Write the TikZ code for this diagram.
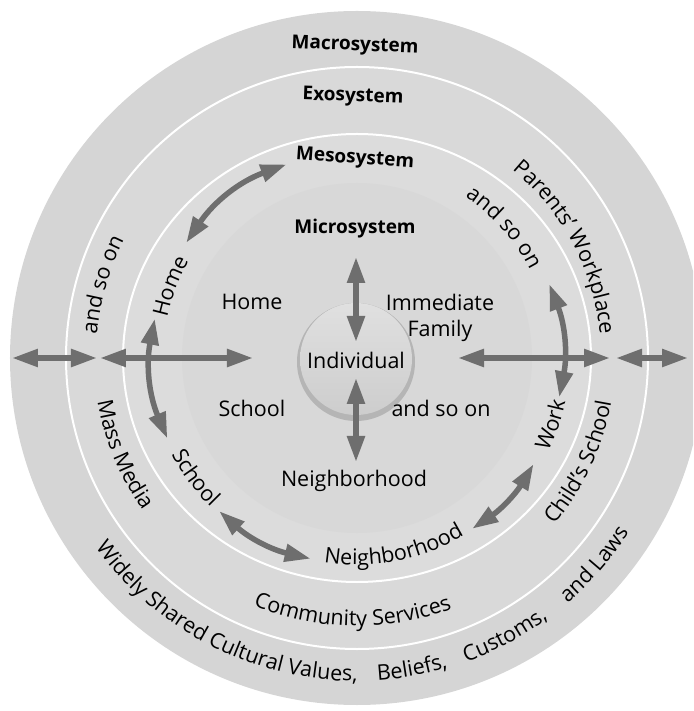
\documentclass[tikz,border=0pt]{standalone}
\usepackage{fontspec}
\setmainfont{Open Sans}
\usetikzlibrary{arrows.meta,decorations.text}

\definecolor{macrogray}{HTML}{D5D5D5}
\definecolor{exogray}{HTML}{D9D9D9}
\definecolor{mesogray}{HTML}{DCDCDC}
\definecolor{microin}{HTML}{D8D8D8}
\definecolor{microout}{HTML}{C6C6C6}
\definecolor{rimgray}{HTML}{B5B5B5}
\definecolor{facetop}{HTML}{E0E0E0}
\definecolor{facebottom}{HTML}{CDCDCD}
\definecolor{linkgray}{HTML}{6E6E6E}
\newcommand\ringfont{\fontsize{21.5}{26}\selectfont}
\pgfdeclareradialshading{microshade}{\pgfpoint{0bp}{0bp}}{color(0bp)=(microin); color(30bp)=(microin); color(50bp)=(microout)}

\tikzset{
  lbl/.style={font=\ringfont},
  systitle/.style={font=\bfseries\fontsize{19}{22}\selectfont},
  link/.style={draw=linkgray, line width=5.5pt, arrows={Triangle[length=26pt,width=17pt]-Triangle[length=26pt,width=17pt]}},
  ringtext/.style={decorate, decoration={text along path, text align=center, text={|\ringfont|#1}}}
}

\begin{document}
\begin{tikzpicture}[x=1pt, y=1pt]
\useasboundingbox (-357,-353) rectangle (336,358);
\clip (-357,-353) rectangle (336,358);

\fill[macrogray] (0,0) circle[radius=347pt];
\draw[white, line width=2pt, fill=exogray] (0,0) circle[radius=291pt];
\draw[white, line width=2pt, fill=mesogray] (0,0) ellipse[x radius=234pt, y radius=224pt];
\shade[shading=microshade] (0,0) circle[radius=175pt];
\fill[rimgray] (-1,-4) circle[radius=59pt];
\shade[top color=facetop, bottom color=facebottom] (-1,-1) circle[radius=56pt];

\node[systitle, rotate=-2] (macro) at (-2,312) {Macrosystem};
\node[systitle, rotate=-2] (exo) at (-4,261) {Exosystem};
\node[systitle, rotate=-4] (meso) at (-2,199) {Mesosystem};
\node[systitle] (micro) at (-2,129) {Microsystem};
\node[lbl] (home) at (-105,56) {Home};
\node[lbl, align=center] (family) at (83,40) {Immediate\\Family};
\node[lbl] (indiv) at (-1,-2) {Individual};
\node[lbl] (school) at (-105,-50) {School};
\node[lbl] (soon) at (84,-50) {and so on};
\node[lbl] (hood) at (-3,-123) {Neighborhood};

\coordinate (farL) at (-345,0);
\coordinate (exoL) at (-260,0);
\coordinate (mesoL) at (-257,0);
\coordinate (microL) at (-104,0);
\coordinate (microR) at (101,0);
\coordinate (mesoR) at (253,0);
\coordinate (exoR) at (259,0);
\coordinate (farR) at (331,0);
\coordinate (upT) at (-1,101);
\coordinate (upB) at (-1,16);
\coordinate (dnT) at (-1,-20);
\coordinate (dnB) at (-1,-104);
\coordinate (homeN) at (146:206pt);
\coordinate (mesoN) at (110:206pt);
\coordinate (homeS) at (169:206pt);
\coordinate (schoolN) at (203:206pt);
\coordinate (schoolS) at (228:206pt);
\coordinate (hoodW) at (257:206pt);
\coordinate (hoodE) at (304:206pt);
\coordinate (workS) at (329:206pt);
\coordinate (workN) at (-11:206pt);
\coordinate (soonS) at (21:206pt);

\draw[link] (farL) -- (exoL);
\draw[link] (mesoL) -- (microL);
\draw[link] (microR) -- (mesoR);
\draw[link] (exoR) -- (farR);
\draw[link] (upT) -- (upB);
\draw[link] (dnT) -- (dnB);
\draw[link] (homeN) to[bend left=18] (mesoN);
\draw[link] (homeS) to[bend right=17] (schoolN);
\draw[link] (schoolS) to[bend right=14.5] (hoodW);
\draw[link] (hoodE) to[bend right=12.5] (workS);
\draw[link] (soonS) to[bend left=16] (workN);

\path[ringtext=Home] (185:194pt) arc[start angle=185, end angle=133, radius=194pt];
\path[ringtext=School] (196:209pt) arc[start angle=196, end angle=237, radius=209pt];
\path[ringtext=Neighborhood] (250:207pt) arc[start angle=250, end angle=312, radius=207pt];
\path[ringtext=Work] (-36:213pt) arc[start angle=-36, end angle=-2, radius=213pt];
\path[ringtext=and so on] (72:194pt) arc[start angle=72, end angle=11, radius=194pt];

\path[ringtext=and so on] (192:261pt) arc[start angle=192, end angle=136, radius=261pt];
\path[ringtext=Mass Media] (178:263pt) arc[start angle=178, end angle=227, radius=263pt];
\path[ringtext=Community Services] (232:268pt) arc[start angle=232, end angle=306, radius=268pt];
\path[ringtext=Child's School] (-53:258pt) arc[start angle=-53, end angle=3, radius=258pt];
\path[ringtext=Parents' Workplace] (62:244pt) arc[start angle=62, end angle=-6, radius=244pt];

\path[ringtext={Widely Shared Cultural Values,}] (198:323pt) arc[start angle=198, end angle=288, radius=323pt];
\path[ringtext={Beliefs,}] (259:323pt) arc[start angle=259, end angle=301, radius=323pt];
\path[ringtext={Customs,}] (277:323pt) arc[start angle=277, end angle=319, radius=323pt];
\path[ringtext={and Laws}] (298:323pt) arc[start angle=298, end angle=340, radius=323pt];
\end{tikzpicture}
\end{document}
